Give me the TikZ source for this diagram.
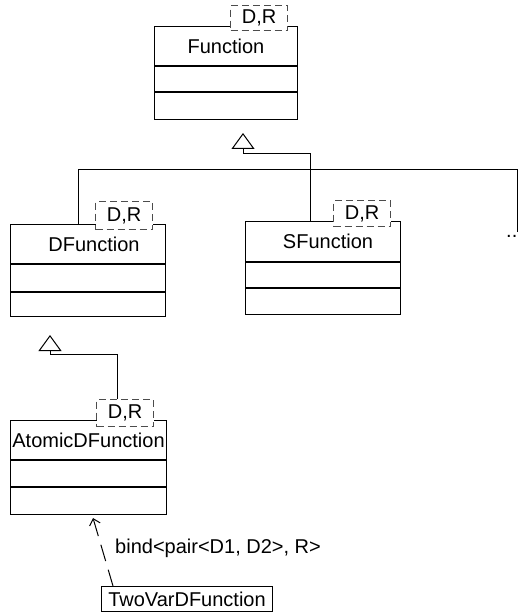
\documentclass[tikz,border=0pt]{standalone}
\usepackage{fontspec}
\setmainfont{Liberation Sans}
\usetikzlibrary{arrows.meta,calc}
\begin{document}
\begin{tikzpicture}[x=1pt,y=-1pt,
  every node/.style={font=\fontsize{20}{23}\selectfont},
  cls/.style={draw, line width=1pt, rectangle, anchor=north west, inner sep=0pt},
  tparam/.style={draw=black!70, dash pattern=on 7pt off 4pt, line width=1.1pt, fill=white,
    anchor=north west, inner sep=0pt, minimum width=57pt, minimum height=25pt},
  gen/.style={line width=1pt, -{Triangle[open,length=16pt,width=23pt]}},
  dep/.style={line width=1pt, dash pattern=on 17pt off 9pt, -{Straight Barb[length=6pt,width=11pt]}},
  ]
\useasboundingbox (0,0) rectangle (518,612);

% Function
\node[cls, minimum width=143pt, minimum height=39pt] (fn) at (154,26) {};
\node[cls, minimum width=143pt, minimum height=25pt] (fna) at (fn.south west) {};
\node[cls, minimum width=143pt, minimum height=27pt] (fno) at (fna.south west) {};
\node (fnname) at (fn.center) {Function};
\node[tparam] (fnt) at (230,5) {D,R};

% DFunction
\node[cls, minimum width=155pt, minimum height=39pt] (df) at (10,224) {};
\node[cls, minimum width=155pt, minimum height=27pt] (dfa) at (df.south west) {};
\node[cls, minimum width=155pt, minimum height=24pt] (dfo) at (dfa.south west) {};
\node (dfname) at ($(df.center)+(6,0)$) {DFunction};
\node[tparam, minimum height=28pt] (dft) at (95,201) {D,R};

% SFunction
\node[cls, minimum width=155pt, minimum height=40pt] (sf) at (245,221) {};
\node[cls, minimum width=155pt, minimum height=25pt] (sfa) at (sf.south west) {};
\node[cls, minimum width=155pt, minimum height=26pt] (sfo) at (sfa.south west) {};
\node (sfname) at ($(sf.center)+(5,0)$) {SFunction};
\node[tparam, minimum height=26pt] (sft) at (333,200) {D,R};

% AtomicDFunction
\node[cls, minimum width=156pt, minimum height=39pt] (at) at (10,420) {};
\node[cls, minimum width=156pt, minimum height=26pt] (ata) at (at.south west) {};
\node[cls, minimum width=156pt, minimum height=27pt] (ato) at (ata.south west) {};
\node (atname) at (at.center) {AtomicDFunction};
\node[tparam, minimum height=27pt] (att) at (96,399) {D,R};

% TwoVarDFunction
\node[cls, minimum width=171pt, minimum height=25pt] (tv) at (101,586) {TwoVarDFunction};

% more subclasses
\coordinate (more) at (517,232);
\node[anchor=base east, inner sep=0pt] (dots) at (517.5,237) {..};

% generalisation to Function
\coordinate (fntip) at (243,133);
\draw[gen] ($(sf.north west)+(65,0)$) |- ($(fntip)+(0,21)$) -- (fntip);
\draw[line width=1pt] ($(df.north west)+(68,0)$) |- (517,170) -- (more);

% generalisation to DFunction
\coordinate (dftip) at (50,335);
\draw[gen] ($(att.north west)+(21,0)$) |- ($(dftip)+(0,19)$) -- (dftip);

% bind dependency
\draw[dep] ($(tv.north west)+(12,0)$) -- ($(ato.south west)+(83,3)$);
\node[anchor=west, inner sep=0pt] (bindlbl) at (115,548) {bind<pair<D1, D2>, R>};
\end{tikzpicture}
\end{document}
